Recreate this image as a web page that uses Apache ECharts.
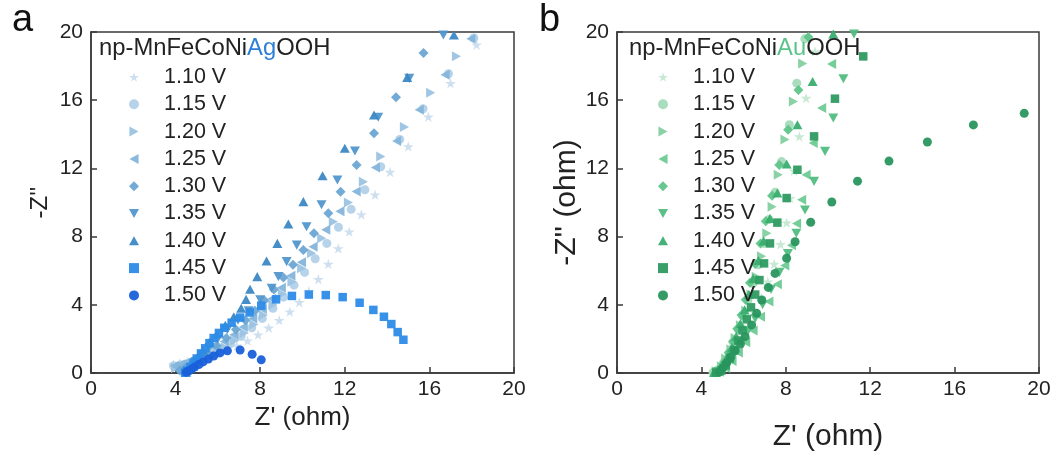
<!DOCTYPE html>
<html><head><meta charset="utf-8">
<script src="https://cdn.jsdelivr.net/npm/echarts@6/dist/echarts.min.js"></script>
<style>html,body{margin:0;padding:0;background:#fff}#c{width:1063px;height:459px}</style>
</head><body><div id="c"></div>
<script>
// ---------- data ----------
var voltages = ['1.10 V','1.15 V','1.20 V','1.25 V','1.30 V','1.35 V','1.40 V','1.45 V','1.50 V'];
var xTicks = [0,4,8,12,16,20];
var yTicks = [0,4,8,12,16,20];

// Panel a: np-MnFeCoNiAgOOH  [Z', -Z'']
var ag110 = [[18.23,19.25],[17.0,17.0],[15.95,15.03],[15.0,13.29],[14.14,11.79],[13.43,10.46],[12.78,9.3],[12.21,8.29],[11.69,7.31],[11.22,6.4],[10.75,5.5],[10.3,4.8],[9.85,4.15],[9.4,3.6],[8.9,3.1],[8.4,2.65],[7.9,2.25],[7.4,1.9],[6.9,1.6],[6.4,1.35],[5.9,1.12],[5.4,0.92],[4.95,0.78],[4.55,0.66],[4.2,0.57],[3.9,0.5]];
var ag115 = [[18.1,19.65],[16.9,17.55],[15.7,15.5],[14.6,13.7],[13.7,12.1],[12.95,10.75],[12.3,9.6],[11.7,8.55],[11.15,7.6],[10.6,6.7],[10.1,5.9],[9.6,5.15],[9.1,4.45],[8.6,3.8],[8.1,3.2],[7.6,2.65],[7.1,2.15],[6.6,1.72],[6.1,1.35],[5.6,1.05],[5.1,0.8],[4.65,0.6],[4.25,0.48],[3.9,0.42]];
var ag120 = [[17.28,18.58],[16.06,16.43],[14.82,14.43],[13.7,12.7],[12.88,11.21],[12.17,10.0],[11.46,8.87],[10.91,7.9],[10.43,7.02],[9.96,6.14],[9.5,5.35],[9.05,4.65],[8.6,4.0],[8.15,3.4],[7.7,2.85],[7.25,2.35],[6.8,1.9],[6.35,1.5],[5.9,1.17],[5.45,0.9],[5.0,0.68],[4.6,0.5],[4.25,0.38],[4.0,0.3]];
var ag125 = [[17.96,19.6],[16.74,17.5],[15.52,15.44],[14.45,13.6],[13.45,12.06],[12.54,10.64],[11.77,9.48],[11.1,8.4],[10.5,7.4],[9.95,6.5],[9.45,5.7],[9.0,5.0],[8.55,4.35],[8.1,3.75],[7.65,3.2],[7.2,2.7],[6.75,2.25],[6.3,1.85],[5.85,1.5],[5.4,1.18],[5.0,0.9],[4.6,0.68],[4.25,0.52],[3.95,0.42]];
var ag130 = [[15.72,18.77],[14.42,16.17],[13.38,14.06],[12.56,12.2],[11.8,10.63],[11.22,9.37],[10.54,8.19],[10.04,7.21],[9.55,6.35],[9.1,5.6],[8.65,4.9],[8.2,4.25],[7.75,3.65],[7.3,3.1],[6.85,2.55],[6.4,2.05],[5.95,1.6],[5.5,1.2],[5.1,0.85],[4.75,0.55],[4.45,0.3],[4.2,0.15]];
var ag135 = [[16.66,19.82],[15.05,17.28],[13.58,15.0],[12.48,13.02],[11.65,11.32],[10.9,9.87],[10.19,8.58],[9.73,7.5],[9.25,6.53],[8.86,5.65],[8.54,4.97],[8.0,4.3],[7.45,3.65],[6.95,3.1],[6.45,2.55],[6.0,2.0],[5.6,1.5],[5.25,1.05],[4.95,0.65],[4.7,0.3],[4.5,0.05]];
var ag140 = [[17.16,19.82],[14.95,17.34],[13.38,15.13],[12.0,13.18],[10.95,11.57],[10.04,10.05],[9.33,8.74],[8.81,7.6],[8.3,6.57],[7.86,5.65],[7.52,4.91],[7.33,4.32],[7.1,3.8],[6.75,3.3],[6.35,2.8],[5.95,2.3],[5.6,1.8],[5.3,1.35],[5.05,0.95],[4.85,0.6],[4.65,0.3],[4.5,0.05]];
var ag145 = [[4.45,0.02],[4.55,0.15],[4.7,0.35],[4.85,0.6],[5.0,0.85],[5.2,1.15],[5.4,1.45],[5.6,1.75],[5.8,2.05],[6.05,2.35],[6.3,2.65],[6.65,2.95],[7.05,3.25],[7.5,3.55],[8.05,3.95],[8.75,4.32],[9.5,4.52],[10.3,4.6],[11.1,4.57],[11.9,4.45],[12.7,4.12],[13.35,3.7],[13.85,3.3],[14.2,2.87],[14.5,2.4],[14.77,1.95]];
var ag150 = [[4.5,0.05],[4.6,0.12],[4.75,0.22],[4.9,0.35],[5.1,0.5],[5.3,0.65],[5.55,0.82],[5.8,1.0],[6.1,1.18],[6.45,1.3],[7.05,1.35],[7.62,1.1],[8.05,0.77]];

// Panel b: np-MnFeCoNiAuOOH
var au110 = [[9.38,18.86],[8.96,16.13],[8.64,13.88],[8.39,11.86],[8.2,10.25],[8.04,8.82],[7.75,7.55],[7.45,6.4],[7.15,5.35],[6.85,4.4],[6.55,3.5],[6.25,2.7],[5.95,2.0],[5.65,1.35],[5.35,0.8],[5.05,0.35],[4.75,0.08]];
var au115 = [[8.9,19.6],[8.52,17.0],[8.17,14.56],[7.8,12.4],[7.5,10.6],[7.2,9.0],[6.95,7.6],[6.7,6.35],[6.45,5.25],[6.2,4.25],[5.95,3.35],[5.75,2.55],[5.5,1.8],[5.3,1.15],[5.05,0.6],[4.8,0.2],[4.55,0.03]];
var au120 = [[8.8,18.15],[8.36,15.93],[7.96,13.7],[7.64,11.63],[7.35,9.75],[7.1,8.2],[6.85,6.85],[6.6,5.65],[6.35,4.6],[6.1,3.65],[5.85,2.8],[5.6,2.05],[5.4,1.4],[5.15,0.85],[4.95,0.4],[4.7,0.1]];
var au125 = [[10.17,18.12],[9.7,15.54],[9.3,13.49],[8.96,11.63],[8.75,10.16],[8.51,8.77],[8.27,7.5],[7.95,6.3],[7.6,5.2],[7.2,4.2],[6.8,3.3],[6.45,2.5],[6.1,1.8],[5.75,1.2],[5.45,0.7],[5.15,0.3],[4.85,0.08]];
var au130 = [[9.07,19.7],[8.6,16.6],[8.11,14.27],[7.69,12.2],[7.35,10.4],[7.05,8.9],[6.8,7.6],[6.55,6.4],[6.3,5.3],[6.1,4.3],[5.9,3.4],[5.7,2.6],[5.5,1.85],[5.3,1.2],[5.1,0.65],[4.9,0.25],[4.7,0.05]];
var au135 = [[11.23,19.88],[10.73,17.26],[10.25,14.96],[9.86,13.0],[9.34,11.24],[8.91,9.56],[8.5,8.2],[8.1,7.0],[7.7,5.9],[7.3,4.9],[6.9,4.0],[6.55,3.2],[6.2,2.45],[5.9,1.8],[5.6,1.2],[5.3,0.7],[5.05,0.3],[4.8,0.08]];
var au140 = [[10.25,19.88],[9.27,17.1],[8.55,14.56],[8.04,12.26],[7.6,10.56],[7.25,9.07],[6.95,7.75],[6.7,6.6],[6.45,5.55],[6.25,4.6],[6.05,3.7],[5.85,2.9],[5.65,2.15],[5.45,1.5],[5.25,0.95],[5.05,0.5],[4.85,0.18],[4.6,0.03]];
var au145 = [[11.67,18.57],[10.33,16.09],[9.34,13.88],[8.55,11.92],[8.04,10.26],[7.6,8.82],[7.25,7.6],[6.97,6.43],[6.75,5.45],[6.55,4.6],[6.35,3.85],[6.15,3.15],[5.95,2.5],[5.75,1.9],[5.55,1.35],[5.35,0.85],[5.15,0.45],[4.95,0.15],[4.7,0.03]];
var au150 = [[19.3,15.23],[16.89,14.55],[14.71,13.55],[12.89,12.43],[11.4,11.25],[10.18,10.03],[9.18,8.84],[8.44,7.7],[8.04,6.73],[7.49,5.84],[7.17,5.02],[6.86,4.28],[6.62,3.5],[6.38,2.82],[6.07,2.13],[5.85,1.7],[5.6,1.3],[5.4,0.95],[5.2,0.6],[5.0,0.3],[4.85,0.05]];

var agSets = [ag110,ag115,ag120,ag125,ag130,ag135,ag140,ag145,ag150];
var auSets = [au110,au115,au120,au125,au130,au135,au140,au145,au150];
var agColors = ['#cbdeee','#b3d1e8','#9bc3e1','#84b5db','#6ca6d4','#5196ce','#3b88c4','#2d8be8','#1960da'];
var auColors = ['#c4e8d1','#a4dbb9','#84d0a1','#6eca94','#5ec489','#52bd81','#3aad6f','#2e9b61','#29955e'];

// ---------- styles ----------
var STAR = 'path://M50,0L61,35L98,35L68,57L79,91L50,70L21,91L32,57L2,35L39,35Z';
var symbols = [STAR,'circle','path://M0,0L10,5.5L0,11Z','path://M10,0L0,5.5L10,11Z','diamond','path://M0,0L11,0L5.5,10Z','path://M5.5,0L11,10L0,10Z','rect','circle'];
var sizes = [11,9,10,10,10,10,10,8.5,9];
var FONT = '"Liberation Sans", Arial, Helvetica, sans-serif';

function mkAxes(idx, nameSizeX, nameGapX, nameY, nameSizeY, nameGapY){
  var common = {
    min:0, max:20, interval:4,
    axisLine:{show:true, onZero:false, lineStyle:{color:'#3a3a3a', width:1.5}},
    axisTick:{show:true, inside:true, length:6, lineStyle:{color:'#3a3a3a', width:1.5}},
    splitLine:{show:false},
    axisLabel:{fontFamily:FONT, fontSize:21, color:'#222'}
  };
  var x = Object.assign({}, common, {type:'value', gridIndex:idx, name:"Z' (ohm)", nameLocation:'middle', nameGap:nameGapX,
    nameTextStyle:{fontFamily:FONT, fontSize:nameSizeX, color:'#222'}, axisLabel:Object.assign({}, common.axisLabel, {margin:6})});
  var y = Object.assign({}, common, {type:'value', gridIndex:idx, name:nameY, nameLocation:'middle', nameGap:nameGapY,
    nameTextStyle:{fontFamily:FONT, fontSize:nameSizeY, color:'#222'}, axisLabel:Object.assign({}, common.axisLabel, {margin:8})});
  return [x,y];
}
var axA = mkAxes(0, 26, 24, "-Z''", 24, 39);
var axB = mkAxes(1, 30, 49, "-Z'' (ohm)", 30, 34);

var series = [];
function addSeries(prefix, sets, colors, idx){
  for (var i=0;i<sets.length;i++){
    series.push({
      type:'scatter', name:prefix+'|'+voltages[i], xAxisIndex:idx, yAxisIndex:idx,
      data:sets[i], symbol:symbols[i], symbolSize:sizes[i], symbolKeepAspect:true,
      itemStyle:{color:colors[i], opacity:0.95}, emphasis:{disabled:true}, silent:true
    });
  }
}
addSeries('Ag', agSets, agColors, 0);
addSeries('Au', auSets, auColors, 1);

function mkLegend(prefix, left){
  return {
    orient:'vertical', left:left, top:61, itemWidth:10, itemHeight:10, itemGap:5.3,
    data: voltages.map(function(v){return prefix+'|'+v;}),
    formatter:function(n){return n.split('|')[1];},
    textStyle:{fontFamily:FONT, fontSize:21.5, lineHeight:21, color:'#222', padding:[0,0,0,20]},
    selectedMode:false
  };
}

var chart = echarts.init(document.getElementById('c'), null, {renderer:'canvas'});
chart.setOption({
  animation:false,
  backgroundColor:'#fff',
  grid:[
    {left:91, top:32, width:423, height:341, show:true, borderColor:'#3a3a3a', borderWidth:1.5, backgroundColor:'transparent'},
    {left:617, top:32, width:422, height:341, show:true, borderColor:'#3a3a3a', borderWidth:1.5, backgroundColor:'transparent'}
  ],
  xAxis:[axA[0], axB[0]],
  yAxis:[axA[1], axB[1]],
  legend:[mkLegend('Ag',124), mkLegend('Au',653)],
  series:series,
  graphic:[
    {type:'text', left:12, top:2, style:{text:'a', fontFamily:FONT, fontSize:38, fill:'#111'}},
    {type:'text', left:539, top:2, style:{text:'b', fontFamily:FONT, fontSize:38, fill:'#111'}},
    {type:'text', left:99, top:36, z:10, style:{text:'{k|np-MnFeCoNi}{c|Ag}{k|OOH}', rich:{
      k:{fontFamily:FONT, fontSize:23.8, fill:'#222'}, c:{fontFamily:FONT, fontSize:23.8, fill:'#2f80d8'}}}},
    {type:'text', left:629, top:36, z:10, style:{text:'{k|np-MnFeCoNi}{c|Au}{k|OOH}', rich:{
      k:{fontFamily:FONT, fontSize:23.8, fill:'#222'}, c:{fontFamily:FONT, fontSize:23.8, fill:'#5cc48b'}}}}
  ]
});
</script></body></html>
